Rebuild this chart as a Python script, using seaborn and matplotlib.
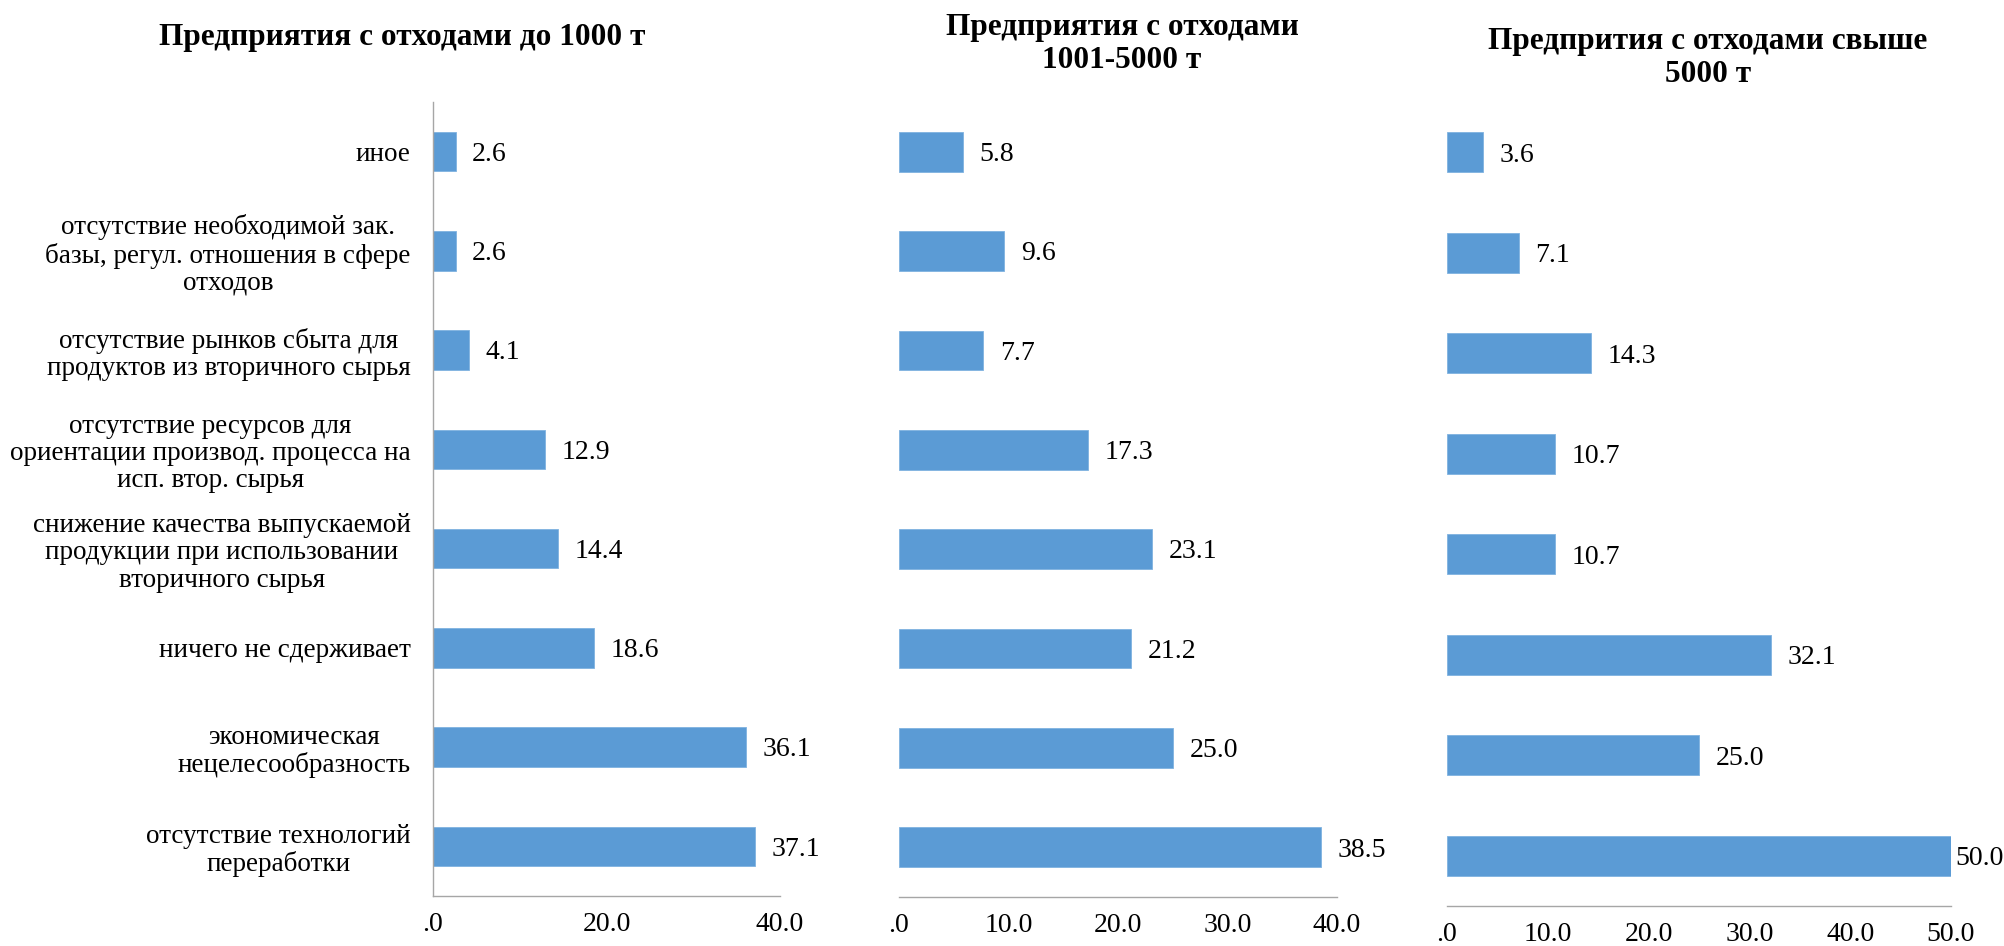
import numpy as np
import pandas as pd
import matplotlib
matplotlib.use("Agg")
import matplotlib.pyplot as plt
import seaborn as sns
from matplotlib.ticker import FuncFormatter, MultipleLocator

categories = [
    "иное",
    "отсутствие необходимой зак.\nбазы, регул. отношения в сфере\nотходов",
    "отсутствие рынков сбыта для\nпродуктов из вторичного сырья",
    "отсутствие ресурсов для\nориентации производ. процесса на\nисп. втор. сырья",
    "снижение качества выпускаемой\nпродукции при использовании\nвторичного сырья",
    "ничего не сдерживает",
    "экономическая\nнецелесообразность",
    "отсутствие технологий\nпереработки",
]
small_values = [2.6, 2.6, 4.1, 12.9, 14.4, 18.6, 36.1, 37.1]
medium_values = [5.8, 9.6, 7.7, 17.3, 23.1, 21.2, 25.0, 38.5]
large_values = [3.6, 7.1, 14.3, 10.7, 10.7, 32.1, 25.0, 50.0]
titles = [
    "Предприятия с отходами до 1000 т",
    "Предприятия с отходами\n1001-5000 т",
    "Предпрития с отходами свыше\n5000 т",
]
x_limits = [40, 40, 50]
x_steps = [20, 10, 10]

sns.set_style("white")
plt.rcParams["font.family"] = ["Liberation Serif", "DejaVu Serif"]
plt.rcParams["text.color"] = "black"
plt.rcParams["xtick.labelcolor"] = "black"
plt.rcParams["ytick.labelcolor"] = "black"

BAR = "#5B9BD5"
AXC = "#A6A6A6"
W, H = 2004, 946
fig = plt.figure(figsize=(W / 100, H / 100), dpi=100)

# pixel boxes: (left, right, top, bottom)
boxes = [(433, 780, 102, 896), (899, 1337, 102, 897), (1447, 1951, 102, 906)]
title_pos = [(402, 38), (1122, 44), (1708, 58)]
series = [small_values, medium_values, large_values]

fmt = FuncFormatter(lambda v, _: ".0" if abs(v) < 1e-9 else f"{v:.1f}")

for i, (vals, box) in enumerate(zip(series, boxes)):
    l, r, t, b = box
    ax = fig.add_axes([l / W, 1 - b / H, (r - l) / W, (b - t) / H])
    df = pd.DataFrame({"category": categories, "value": vals})
    sns.barplot(data=df, x="value", y="category", ax=ax, color=BAR,
                saturation=1, width=0.4, orient="h", edgecolor="#7FB2E0",
                linewidth=0.6)
    ax.set_xlim(0, x_limits[i])
    ax.set_ylim(7.5, -0.5)
    ax.set_xlabel("")
    ax.set_ylabel("")
    ax.xaxis.set_major_locator(MultipleLocator(x_steps[i]))
    ax.xaxis.set_major_formatter(fmt)
    ax.tick_params(axis="x", which="major", length=5.5, width=1, color=AXC,
                   direction="out", labelsize=20, pad=6, labelcolor="black")
    for s in ["top", "right"]:
        ax.spines[s].set_visible(False)
    ax.spines["bottom"].set_color(AXC)
    ax.spines["bottom"].set_linewidth(1)
    if i == 0:
        ax.spines["left"].set_color(AXC)
        ax.spines["left"].set_linewidth(1)
        ax.set_yticks(range(len(categories)))
        ax.set_yticklabels(categories, ha="right", multialignment="center",
                           linespacing=1.12)
        ax.tick_params(axis="y", which="major", length=0, labelsize=19.5,
                       pad=16, labelcolor="black")
        ax.set_yticks(np.arange(-0.5, len(categories), 1), minor=True)
        ax.tick_params(axis="y", which="minor", length=5.5, width=1, color=AXC)
    else:
        ax.spines["left"].set_visible(False)
        ax.set_yticks([])
    for patch, v in zip(ax.containers[0], vals):
        pad = 3 if v >= 0.99 * x_limits[i] else 12
        ax.annotate(f"{v:.1f}",
                    xy=(patch.get_x() + patch.get_width(),
                        patch.get_y() + patch.get_height() / 2),
                    xytext=(pad, -2), textcoords="offset points",
                    ha="left", va="center", fontsize=20, color="black",
                    annotation_clip=False)
    ax.patch.set_alpha(0)
    tx, ty = title_pos[i]
    fig.text(tx / W, 1 - ty / H, titles[i], ha="center", va="center",
             fontsize=22.5, fontweight="bold", multialignment="center",
             linespacing=1.2, color="black")

fig.savefig("out.png", dpi=100)
